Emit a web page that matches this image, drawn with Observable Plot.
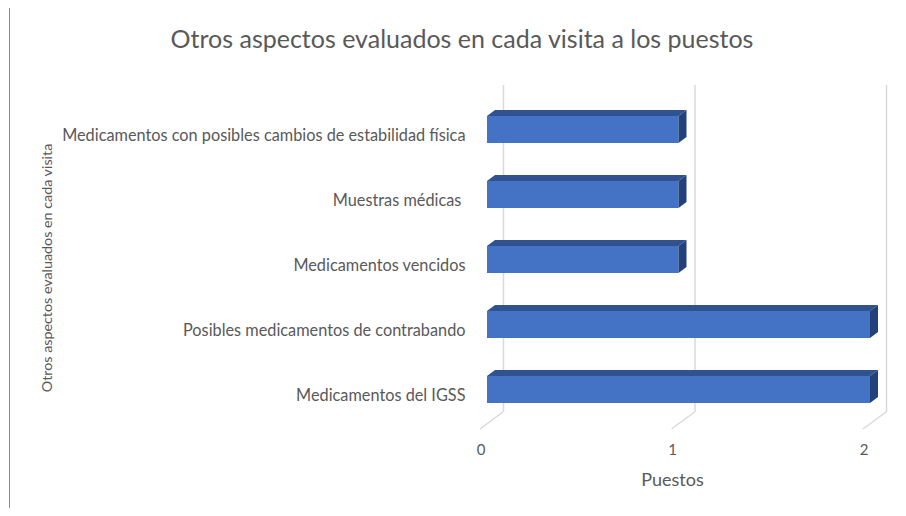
<!DOCTYPE html>
<html><head><meta charset="utf-8">
<script src="https://cdn.jsdelivr.net/npm/d3@7"></script>
<script src="https://cdn.jsdelivr.net/npm/@observablehq/plot@0.6"></script>
<style>
body{margin:0;background:#fff;}
#wrap{position:relative;width:906px;height:516px;overflow:hidden;font-family:Lato,"Open Sans",sans-serif;background:#fff;}
#border{position:absolute;left:9px;top:8px;width:1px;height:500px;background:#8c8c8c;}
#title{position:absolute;left:0;top:0;width:924px;height:64px;line-height:77px;text-align:center;font-size:25px;color:#595959;white-space:nowrap;}
#chart{position:absolute;left:0;top:64px;}
</style></head><body>
<div id="wrap"><div id="title">Otros aspectos evaluados en cada visita a los puestos</div><div id="border"></div><div id="chart"></div></div>
<script>
const categories = [
  "Medicamentos con posibles cambios de estabilidad física",
  "Muestras médicas ",
  "Medicamentos vencidos",
  "Posibles medicamentos de contrabando",
  "Medicamentos del IGSS"
];
const values = [1, 1, 1, 2, 2];
const xTicks = [0, 1, 2];
const xLabel = "Puestos";
const yLabel = "Otros aspectos evaluados en cada visita";

const data = categories.map((c, i) => ({category: c, value: values[i]}));
const frontColor = "#4472c4", topColor = "#30528f", sideColor = "#24427a";
const depthX = 8, depthY = 6;

function faces(index, scales, vals, dims) {
  const x = scales.x, y = scales.y;
  const bw = y.bandwidth ? y.bandwidth() : 27;
  const g = d3.create("svg:g");
  for (const d of data) {
    const x0 = x(0), x1 = x(d.value), y0 = y(d.category), y1 = y0 + bw;
    g.append("path")
      .attr("d", `M${x0},${y0}L${x0 + depthX},${y0 - depthY}L${x1 + depthX},${y0 - depthY}L${x1},${y0}Z`)
      .attr("fill", topColor);
    g.append("path")
      .attr("d", `M${x1},${y0}L${x1 + depthX},${y0 - depthY}L${x1 + depthX},${y1 - depthY}L${x1},${y1}Z`)
      .attr("fill", sideColor);
  }
  return g.node();
}

function floor(index, scales, vals, dims) {
  const x = scales.x;
  const yb = dims.height - dims.marginBottom - 31;
  const g = d3.create("svg:g");
  for (const t of xTicks) {
    g.append("line")
      .attr("x1", x(t) + 16).attr("y1", yb)
      .attr("x2", x(t) - 7).attr("y2", yb + 17)
      .attr("stroke", "#d9d9d9").attr("stroke-width", 1.5);
  }
  return g.node();
}

const chart = Plot.plot({
  width: 906,
  height: 452,
  marginLeft: 487,
  marginRight: 36,
  marginTop: 12,
  marginBottom: 73,
  style: {fontFamily: "Lato, 'Open Sans', sans-serif", color: "#595959", background: "transparent"},
  x: {domain: [0, 2]},
  y: {domain: categories, padding: 0.59},
  marks: [
    Plot.ruleX(xTicks, {dx: 16, insetTop: 9, insetBottom: 31, stroke: "#d9d9d9", strokeWidth: 1.5, strokeOpacity: 1}),
    floor,
    Plot.barX(data, {x: "value", y: "category", fill: frontColor}),
    faces,
    Plot.axisX(xTicks, {tickSize: 0, tickPadding: 1, dx: -6.5, label: null, fontSize: 15, tickFormat: d3.format("d")}),
    Plot.axisY({tickSize: 0, tickPadding: 22, dy: 6, label: null, fontSize: 16.3}),
    Plot.text([xLabel], {frameAnchor: "bottom", dx: -6.5, dy: 37, fontSize: 18, lineAnchor: "middle", fill: "#595959"}),
    Plot.text([yLabel], {frameAnchor: "left", textAnchor: "middle", rotate: -90, dx: -440, dy: 8, fontSize: 14.3, fill: "#595959"})
  ]
});
document.getElementById("chart").appendChild(chart);
</script>
</body></html>
